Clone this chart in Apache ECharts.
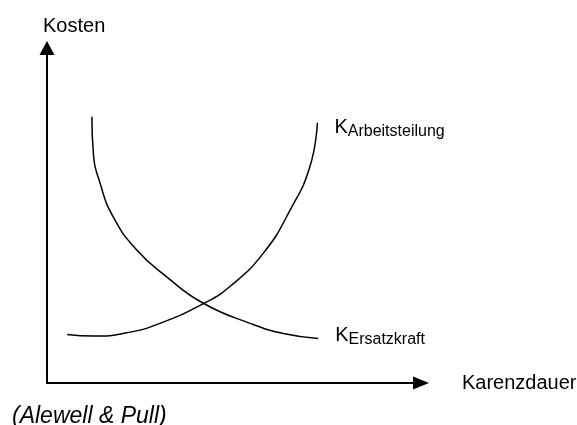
<!DOCTYPE html>
<html>
<head>
<meta charset="utf-8">
<script src="https://cdn.jsdelivr.net/npm/echarts@6/dist/echarts.min.js"></script>
<style>
  html, body { margin: 0; padding: 0; background: #fff; }
  #chart { width: 577px; height: 425px; }
</style>
</head>
<body>
<div id="chart"></div>
<script>
// Kostenverläufe (Werte auf 0..100 normiert)
const arbeitsteilung = [
  [5.4, 14.5], [12.4, 14.0], [21.3, 15.0], [30.2, 17.8], [42.0, 23.8],
  [48.9, 28.8], [57.8, 38.7], [65.0, 51.6], [70.3, 64.6], [72.3, 77.7]
]
const ersatzkraft = [
  [12.0, 79.5], [12.4, 68.6], [14.2, 59.6], [17.7, 49.6], [24.0, 39.7],
  [32.0, 31.7], [41.8, 23.8], [54.3, 17.8], [63.2, 14.8], [72.5, 13.3]
]
const xName = 'Karenzdauer'
const yName = 'Kosten'
const quelle = '(Alewell & Pull)'

const font = 'Liberation Sans, Arial, sans-serif'

const chart = echarts.init(document.getElementById('chart'))

const endLabel = (sub, dy) => ({
  show: true,
  distance: 17,
  offset: [0, dy],
  formatter: '{k|K}{s|' + sub + '}',
  rich: {
    k: { fontSize: 20, color: '#000', fontFamily: font },
    s: { fontSize: 16, color: '#000', fontFamily: font, padding: [8, 0, 0, 0] }
  }
})

const option = {
  animation: false,
  backgroundColor: '#fff',
  title: {
    text: quelle,
    left: 12,
    top: 405,
    padding: 0,
    textStyle: { fontSize: 23, fontStyle: 'italic', fontWeight: 'normal', color: '#000', fontFamily: font }
  },
  grid: {
    left: 47,
    right: 156,
    top: 48,
    bottom: 42,
    outerBoundsMode: 'none'
  },
  xAxis: {
    type: 'value',
    min: 0,
    max: 100,
    name: xName,
    nameLocation: 'end',
    nameGap: 41,
    nameTextStyle: { fontSize: 20, color: '#000', fontFamily: font, verticalAlign: 'middle', padding: [0, 0, 3, 0] },
    axisLine: {
      show: true,
      symbol: ['none', 'triangle'],
      symbolSize: [13, 16],
      lineStyle: { color: '#000', width: 2 }
    },
    axisTick: { show: false },
    axisLabel: { show: false },
    splitLine: { show: false }
  },
  yAxis: {
    type: 'value',
    min: 0,
    max: 100,
    name: yName,
    nameLocation: 'end',
    nameGap: 22,
    nameTextStyle: { fontSize: 20, color: '#000', fontFamily: font, align: 'left', verticalAlign: 'middle', padding: [0, 0, 0, -4] },
    axisLine: {
      show: true,
      symbol: ['none', 'triangle'],
      symbolSize: [15, 14],
      lineStyle: { color: '#000', width: 2 }
    },
    axisTick: { show: false },
    axisLabel: { show: false },
    splitLine: { show: false }
  },
  series: [
    {
      name: 'Arbeitsteilung',
      type: 'line',
      smooth: true,
      showSymbol: false,
      lineStyle: { color: '#000', width: 1.5 },
      endLabel: endLabel('Arbeitsteilung', 5),
      data: arbeitsteilung
    },
    {
      name: 'Ersatzkraft',
      type: 'line',
      smooth: true,
      showSymbol: false,
      lineStyle: { color: '#000', width: 1.5 },
      endLabel: endLabel('Ersatzkraft', -3),
      data: ersatzkraft
    }
  ]
}

chart.setOption(option)
</script>
</body>
</html>
